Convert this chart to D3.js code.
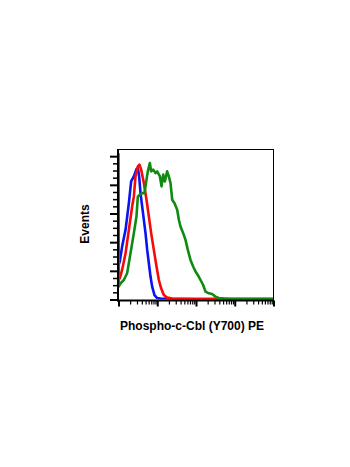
<!DOCTYPE html>
<html>
<head>
<meta charset="utf-8">
<script src="https://cdn.jsdelivr.net/npm/d3@7"></script>
<style>
  html, body { margin: 0; padding: 0; background: #ffffff; }
  svg { display: block; }
  text { font-family: "Liberation Sans", Arial, sans-serif; font-weight: bold; fill: #000; }
</style>
</head>
<body>
<svg id="chart" width="350" height="467"></svg>
<script>
// ---- Data (fluorescence intensity, events) ----
const blueX  = [1.0, 1.08, 1.24, 1.52, 1.85, 2.12, 2.49, 2.91, 3.16, 3.41, 3.70, 4.08, 4.51, 4.98, 5.50, 6.07, 6.70, 7.39, 8.49, 9.95, 12.1, 20, 100, 1000, 10000];
const blueY  = [24, 26.5, 36.9, 48.6, 67.2, 82.4, 85.9, 91.0, 91.7, 85.9, 74.2, 64.9, 55.6, 46.3, 34.6, 25.3, 16.0, 9.0, 3.1, 1.0, 0.6, 0.4, 0.3, 0.3, 0.3];

const redX   = [1.0, 1.08, 1.24, 1.52, 1.85, 2.25, 2.49, 2.75, 3.16, 3.48, 3.85, 4.51, 5.28, 6.07, 6.97, 8.16, 9.57, 11.0, 12.6, 14.8, 18.0, 24.3, 100, 1000, 10000];
const redY   = [15, 14.8, 20.6, 32.3, 48.6, 64.9, 71.9, 85.9, 92.9, 94.1, 90.6, 81.2, 69.6, 57.9, 46.3, 34.6, 23.0, 13.6, 7.8, 3.1, 1.3, 0.6, 0.4, 0.4, 0.4];

const greenX = [1.0, 1.02, 1.06, 1.13, 1.37, 1.67, 2.04, 2.49, 2.91, 3.16, 3.55, 4.08, 4.69, 5.28, 5.71, 6.44, 6.97, 7.85, 9.01, 9.95, 11.7, 12.9, 14.2, 15.7, 18.0, 19.9, 22.0, 24.3, 27.9, 32.7, 36.1, 39.8, 46.7, 53.6, 61.5, 72.1, 84.5, 97.1, 111, 131, 153, 176, 214, 261, 318, 388, 523, 777, 2000, 10000];
const greenY = [102, 9.0, 10.1, 11.3, 13.6, 18.3, 32.3, 46.3, 57.9, 71.9, 73.1, 74.2, 74.2, 83.6, 89.4, 95.2, 89.4, 90.6, 88.2, 89.4, 85.9, 78.9, 87.1, 82.4, 89.4, 85.9, 81.2, 69.6, 67.2, 62.6, 55.6, 50.9, 46.3, 41.6, 34.6, 27.6, 23.0, 19.5, 17.1, 13.6, 10.1, 5.5, 4.3, 3.8, 2.0, 1.0, 0.6, 0.3, 0.3, 0.3];

const seriesNames  = ["blue", "red", "green"];
const seriesColors = ["#0a14f0", "#f50a0a", "#108a10"];

const xMajorTicks = [1, 10, 100, 1000, 10000];
const yMajorTicks = [0, 20, 40, 60, 80, 100];

const xLabel = "Phospho-c-Cbl (Y700) PE";
const yLabel = "Events";

// ---- Layout ----
const pLeft = 118, pRight = 274, pTop = 149, pBottom = 299.5;

const svg = d3.select("#chart");

const x = d3.scaleLog().domain([1, 10000]).range([pLeft + 0.5, pRight - 0.5]);
const y = d3.scaleLinear().domain([0, 105]).range([pBottom, pTop]);

const xMinorTicks = [];
for (let d = 1; d < 10000; d *= 10) {
  for (let k = 2; k <= 9; k++) xMinorTicks.push(d * k);
}
const yMinorTicks = d3.range(0, 105, 5).filter(v => v % 20 !== 0);

// clip
svg.append("defs").append("clipPath").attr("id", "plotclip")
  .append("rect").attr("x", pLeft).attr("y", pTop).attr("width", pRight - pLeft).attr("height", pBottom - pTop);

// curves
const data = [
  blueX.map((v, i) => [v, blueY[i]]),
  redX.map((v, i) => [v, redY[i]]),
  greenX.map((v, i) => [v, greenY[i]])
];
const line = d3.line().x(d => x(d[0])).y(d => y(d[1]));
const g = svg.append("g").attr("clip-path", "url(#plotclip)");
data.forEach((pts, i) => {
  g.append("path")
    .datum(pts)
    .attr("d", line)
    .attr("fill", "none")
    .attr("stroke", seriesColors[i])
    .attr("stroke-width", 2.6)
    .attr("stroke-linejoin", "round")
    .attr("class", "series-" + seriesNames[i]);
});

// frame: top and right thin
svg.append("line").attr("x1", pLeft).attr("x2", pRight).attr("y1", pTop + 0.5).attr("y2", pTop + 0.5)
  .attr("stroke", "#000").attr("stroke-width", 1);
svg.append("line").attr("x1", pRight - 0.5).attr("x2", pRight - 0.5).attr("y1", pTop).attr("y2", pBottom)
  .attr("stroke", "#000").attr("stroke-width", 1);

// y axis ticks
const yMaj = svg.append("g").attr("transform", `translate(${pLeft},0)`)
  .call(d3.axisLeft(y).tickValues(yMajorTicks).tickSize(8).tickFormat("").tickSizeOuter(0));
yMaj.select(".domain").remove();
yMaj.selectAll(".tick line").attr("stroke-width", 2);
const yMin = svg.append("g").attr("transform", `translate(${pLeft},0)`)
  .call(d3.axisLeft(y).tickValues(yMinorTicks).tickSize(5).tickFormat("").tickSizeOuter(0));
yMin.select(".domain").remove();
yMin.selectAll(".tick line").attr("stroke-width", 1.5);

// x axis ticks
const xMaj = svg.append("g").attr("transform", `translate(0,${pBottom + 1})`)
  .call(d3.axisBottom(x).tickValues(xMajorTicks).tickSize(6).tickFormat("").tickSizeOuter(0));
xMaj.select(".domain").remove();
xMaj.selectAll(".tick line").attr("stroke-width", 2);
const xMin = svg.append("g").attr("transform", `translate(0,${pBottom + 1})`)
  .call(d3.axisBottom(x).tickValues(xMinorTicks).tickSize(4).tickFormat("").tickSizeOuter(0));
xMin.select(".domain").remove();
xMin.selectAll(".tick line").attr("stroke-width", 1.2);

// left and bottom axis lines (thick)
svg.append("line").attr("x1", pLeft).attr("x2", pLeft).attr("y1", pTop).attr("y2", pBottom + 2)
  .attr("stroke", "#000").attr("stroke-width", 2);
svg.append("line").attr("x1", pLeft - 1).attr("x2", pRight).attr("y1", pBottom + 1).attr("y2", pBottom + 1)
  .attr("stroke", "#000").attr("stroke-width", 2);

// labels
svg.append("text")
  .attr("x", 192).attr("y", 330)
  .attr("text-anchor", "middle")
  .attr("font-size", 12)
  .text(xLabel);

svg.append("text")
  .attr("transform", "translate(89,224) rotate(-90)")
  .attr("text-anchor", "middle")
  .attr("font-size", 12)
  .text(yLabel);
</script>
</body>
</html>
